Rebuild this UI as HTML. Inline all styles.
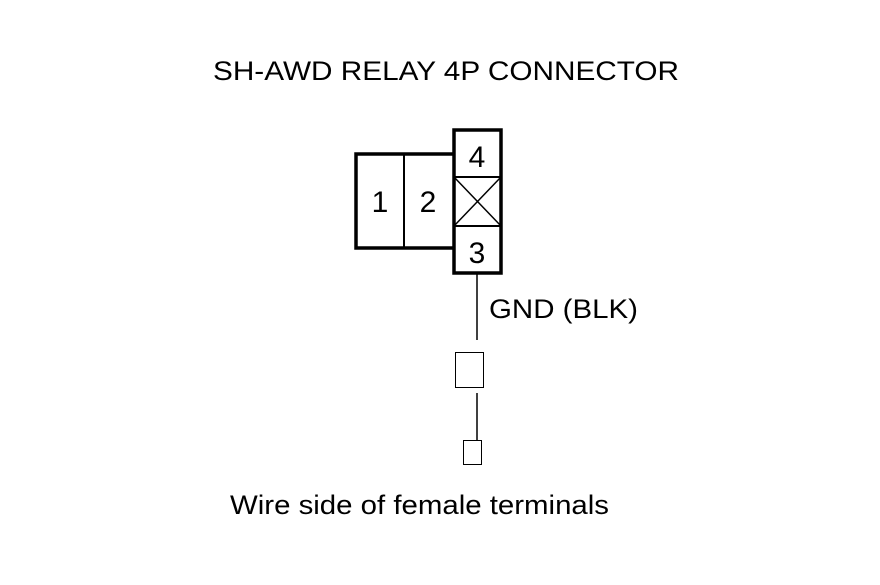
<!DOCTYPE html>
<html><head><style>body{margin:0;background:#fff}</style></head><body>
<svg width="880" height="580" xmlns="http://www.w3.org/2000/svg" font-family="Liberation Sans, Arial, sans-serif">
<rect width="880" height="580" fill="#fff"/>
<text x="213" y="80" font-size="27" textLength="466" lengthAdjust="spacingAndGlyphs" fill="#000">SH-AWD RELAY 4P CONNECTOR</text>
<g stroke="#000" fill="none">
<path d="M454 154 H356 V248 H454" stroke-width="3.5"/>
<line x1="404" y1="154" x2="404" y2="248" stroke-width="2"/>
<rect x="454" y="130" width="47" height="143" stroke-width="3.5"/>
<line x1="454" y1="177" x2="501" y2="177" stroke-width="2"/>
<line x1="454" y1="226" x2="501" y2="226" stroke-width="2"/>
<line x1="454" y1="177" x2="501" y2="226" stroke-width="1.5"/>
<line x1="501" y1="177" x2="454" y2="226" stroke-width="1.5"/>
<line x1="477" y1="273" x2="477" y2="340" stroke-width="1.5"/>
<rect x="455.5" y="352.5" width="28" height="35" stroke-width="1"/>
<line x1="477" y1="393" x2="477" y2="440" stroke-width="1.5"/>
<rect x="463.5" y="440.5" width="18" height="24" stroke-width="1"/>
</g>
<g font-size="30" fill="#000" text-anchor="middle">
<text x="380" y="212">1</text>
<text x="428" y="212">2</text>
<text x="477" y="167">4</text>
<text x="477" y="263">3</text>
</g>
<text x="489" y="318" font-size="27" textLength="149" lengthAdjust="spacingAndGlyphs" fill="#000">GND (BLK)</text>
<text x="230" y="514" font-size="27" textLength="379" lengthAdjust="spacingAndGlyphs" fill="#000">Wire side of female terminals</text>
</svg>
</body></html>
